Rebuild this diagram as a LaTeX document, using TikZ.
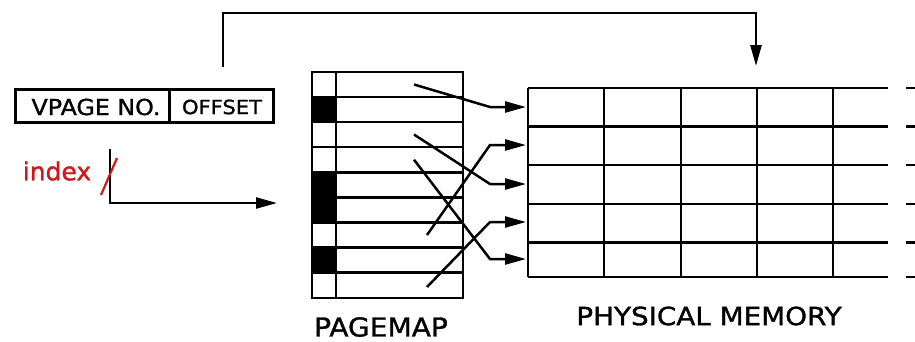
\documentclass[tikz,border=0pt]{standalone}
\usepackage{fontspec}
\setmainfont{DejaVu Sans}
\newfontfamily\lblfont[FakeStretch=1.08,FakeBold=1.2]{DejaVu Sans}
\newfontfamily\idxfont[FakeBold=1.2]{DejaVu Sans}
\usetikzlibrary{arrows.meta}
\definecolor{idxred}{RGB}{205,25,25}
\begin{document}
\begin{tikzpicture}[x=1pt,y=-1pt,line width=2.5pt,
  tri/.style={-{Triangle[length=21pt,width=11pt]}},
  lbl/.style={inner sep=0pt,anchor=center},
  field/.style={draw,minimum height=33pt,inner sep=0pt,anchor=north west}]
\useasboundingbox (0,0) rectangle (915,341);
% address register
\node[field,minimum width=154pt] (vpage) at (14,88) {};
\node[field,minimum width=104pt] (offset) at (168,88) {};
\node[lbl,font=\lblfont\fontsize{22}{22}\selectfont] (vtxt) at (96,107) {VPAGE NO.};
\node[lbl,font=\lblfont\fontsize{19.5}{19.5}\selectfont] (otxt) at (222,107) {OFFSET};
% top path from offset to memory
\coordinate (offtop) at (223,67);
\coordinate (c1) at (223,13);
\coordinate (c2) at (756,13);
\coordinate (memtop) at (756,66);
\draw[tri,line join=miter] (offtop) -- (c1) -- (c2) -- (memtop);
% index path
\coordinate (ia) at (110,149);
\coordinate (ib) at (110,203);
\coordinate (ic) at (277,203);
\draw[tri,line join=miter] (ia) -- (ib) -- (ic);
\node[lbl,text=idxred,font=\idxfont\fontsize{25}{25}\selectfont] (idx) at (57,171) {index};
\coordinate (sa) at (101,195);
\coordinate (sb) at (117,158);
\draw[idxred,line width=2.2pt] (sa) -- (sb);
% pagemap
\foreach \a/\b in {96.9/122,172.3/222.5,247.6/272.7}
  \fill (312,\a) rectangle (336,\b);
\foreach \y in {96.9,122,147.2,172.3,197.4,222.5,247.6,272.7}
  \draw (312,\y) -- (463,\y);
\draw (312,72) rectangle (463,298);
\draw (336,72) -- (336,298);
\node[lbl,font=\lblfont\fontsize{26}{26}\selectfont] (pmlbl) at (381,327) {PAGEMAP};
% physical memory
\foreach \y in {88,126.6,165.2,203.8,242.4,277}{
  \draw (528,\y) -- (888,\y);
  \draw (906,\y) -- (915,\y);
}
\foreach \x in {528,604,681,757,833}
  \draw (\x,88) -- (\x,277);
\node[lbl,font=\lblfont\fontsize{25}{25}\selectfont,xscale=1.03] (phlbl) at (709,316) {PHYSICAL MEMORY};
% mapping connectors
\foreach \n/\xs/\ys/\ym in {1/414/84.5/107,2/414/134.5/184,3/414/159.7/259,4/427/235/145,5/427/287/222}{
  \coordinate (s\n) at (\xs,\ys);
  \coordinate (k\n) at (490,\ym);
  \coordinate (t\n) at (526,\ym);
}
\foreach \n in {1,...,5}
  \draw[tri,line join=miter] (s\n) -- (k\n) -- (t\n);
\end{tikzpicture}
\end{document}
